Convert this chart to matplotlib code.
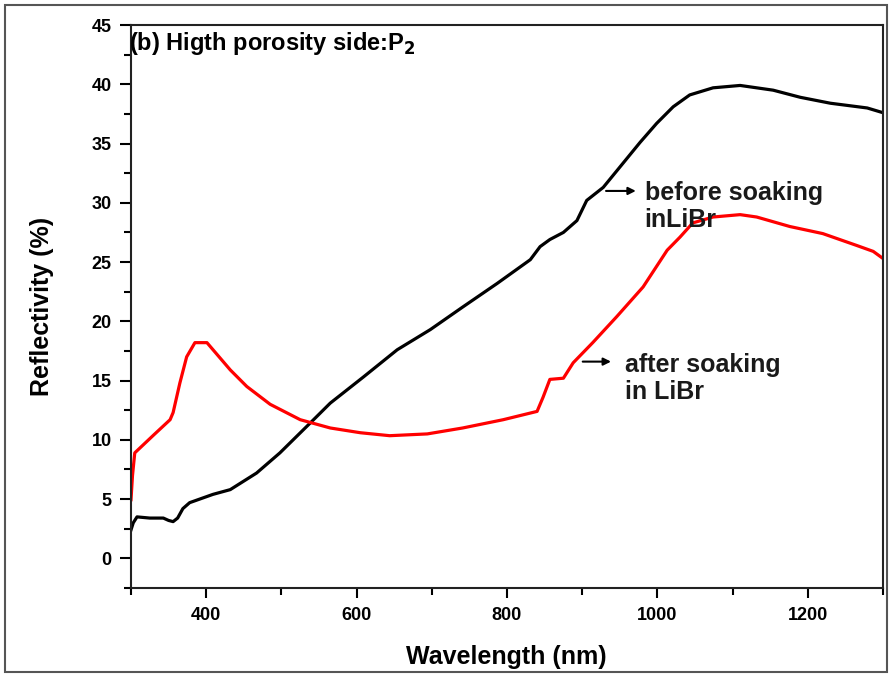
import numpy as np
import matplotlib
matplotlib.use("Agg")
from matplotlib import pyplot as plt
from matplotlib.patches import Rectangle
from matplotlib.ticker import MultipleLocator

plt.rcParams['font.family'] = ['Liberation Sans', 'DejaVu Sans']
plt.rcParams['font.weight'] = 'bold'
plt.rcParams['mathtext.default'] = 'bf'

# before soaking in LiBr (black)
wl_before = [300, 303, 308, 325, 343, 350, 356, 362, 369, 378, 409, 432, 467, 498,
             538, 565, 609, 654, 698, 741, 787, 831, 844, 857, 875, 893, 906, 928,
             977, 999, 1021, 1043, 1074, 1110, 1154, 1190, 1230, 1279, 1300]
r_before = [2.4, 3.0, 3.5, 3.4, 3.4, 3.2, 3.1, 3.4, 4.2, 4.7, 5.4, 5.8, 7.2, 8.9,
            11.4, 13.1, 15.3, 17.6, 19.3, 21.2, 23.2, 25.2, 26.3, 26.9, 27.5, 28.5,
            30.2, 31.3, 35.1, 36.7, 38.1, 39.1, 39.7, 39.9, 39.5, 38.9, 38.4, 38.0, 37.6]

# after soaking in LiBr (red)
wl_after = [300, 302, 305, 330, 352, 356, 365, 374, 385, 401, 432, 454, 485, 525,
            565, 605, 644, 694, 741, 795, 840, 848, 857, 875, 888, 914, 946, 981,
            1013, 1030, 1047, 1074, 1110, 1132, 1176, 1220, 1265, 1287, 1300]
r_after = [4.95, 7.0, 8.9, 10.4, 11.7, 12.3, 14.8, 17.0, 18.2, 18.2, 15.9, 14.5, 13.0,
           11.7, 11.0, 10.6, 10.35, 10.5, 11.0, 11.7, 12.4, 13.6, 15.1, 15.2, 16.5,
           18.2, 20.4, 22.9, 26.0, 27.1, 28.3, 28.8, 29.0, 28.8, 28.0, 27.4, 26.4,
           25.9, 25.3]

fig = plt.figure(figsize=(8.91, 6.75), dpi=100)
fig.patches.append(Rectangle((0.006, 0.005), 0.99, 0.988, transform=fig.transFigure,
                             fill=False, edgecolor='#555555', linewidth=1.5))
ax = fig.add_axes([131 / 891, 1 - 588 / 675, 752 / 891, 563 / 675])

ax.plot(wl_before, r_before, color='black', linewidth=2.3)
ax.plot(wl_after, r_after, color='red', linewidth=2.3)

ax.set_xlim(300, 1300)
ax.set_ylim(-2.5, 45)
ax.xaxis.set_minor_locator(MultipleLocator(100))
ax.yaxis.set_minor_locator(MultipleLocator(2.5))
ax.set_xticks([400, 600, 800, 1000, 1200])
ax.set_yticks(range(0, 46, 5))
ax.tick_params(which='major', direction='out', length=8, width=1.5, labelsize=13)
ax.tick_params(which='minor', direction='out', length=5, width=1.5)
ax.tick_params(axis='x', which='major', length=7.5, pad=6)
ax.tick_params(axis='y', which='major', pad=6)
for lab in ax.get_xticklabels() + ax.get_yticklabels():
    lab.set_fontweight('bold')
for s in ax.spines.values():
    s.set_linewidth(1.5)
    s.set_color('#222222')

ax.set_xlabel('Wavelength (nm)', fontsize=18, fontweight='bold')
ax.xaxis.set_label_coords(0.499, (588 - 657) / 563)
ax.xaxis.label.set_va('center')
ax.set_ylabel('Reflectivity (%)', fontsize=18, fontweight='bold')
ax.yaxis.set_label_coords((42 - 131) / 752, 0.5)
ax.yaxis.label.set_va('center')
ax.yaxis.label.set_ha('center')

ax.text(-0.002, 0.992, '(b) Higth porosity side:P$_2$', transform=ax.transAxes,
        fontsize=17, fontweight='bold', va='top', ha='left')

ax.annotate('', xy=(975, 31.0), xytext=(928, 31.0),
            arrowprops=dict(arrowstyle='-|>', color='black', lw=1.5, mutation_scale=11))
ax.text(983, 29.7, 'before soaking\ninLiBr', fontsize=18, fontweight='bold',
        va='center', ha='left', linespacing=1.15, color='#1a1a1a')
ax.annotate('', xy=(942, 16.6), xytext=(897, 16.6),
            arrowprops=dict(arrowstyle='-|>', color='black', lw=1.5, mutation_scale=11))
ax.text(957, 15.2, 'after soaking\nin LiBr', fontsize=18, fontweight='bold',
        va='center', ha='left', linespacing=1.15, color='#1a1a1a')

fig.savefig('out.png', dpi=100)
